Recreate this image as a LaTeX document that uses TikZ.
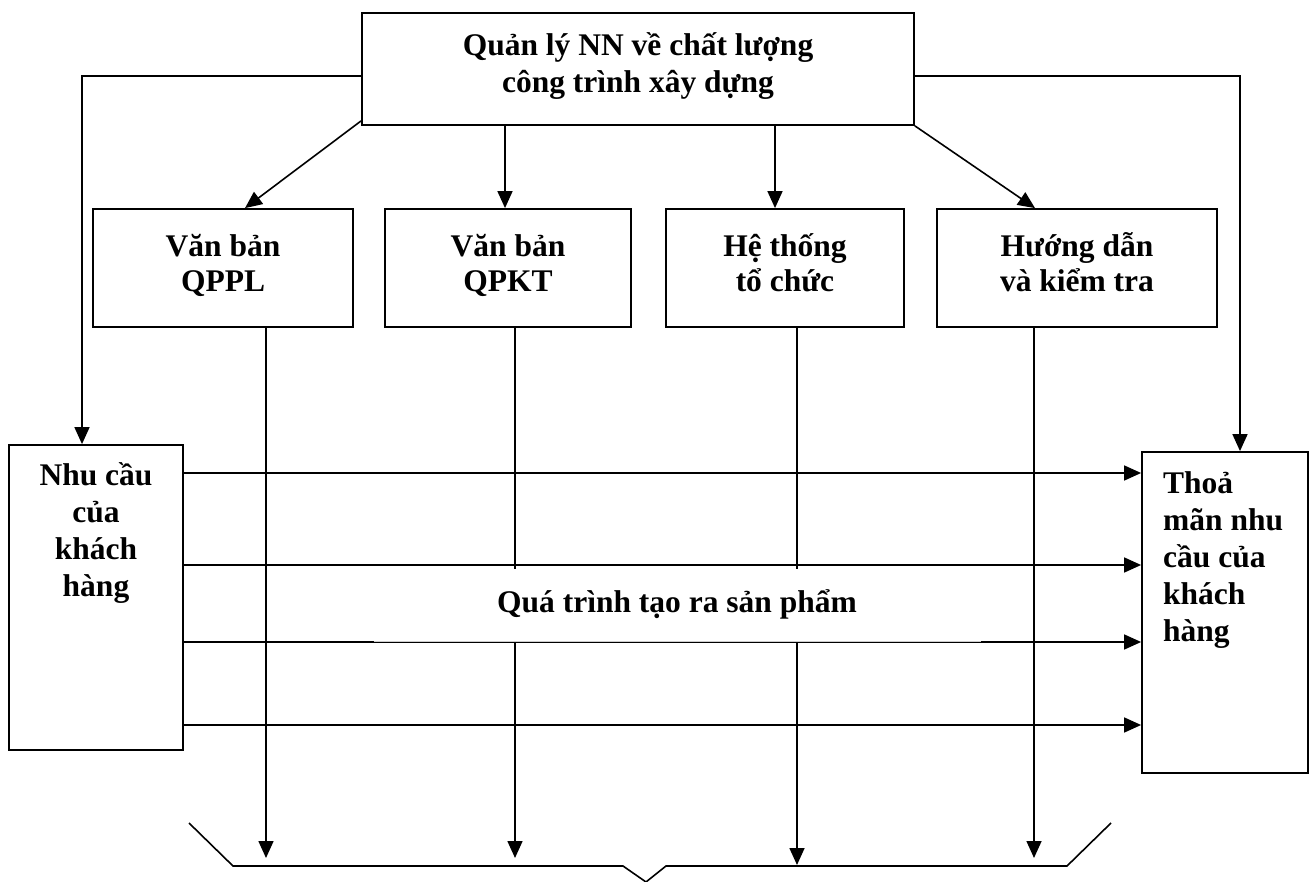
\documentclass[tikz,border=0pt]{standalone}
\usepackage{fontspec}
\setmainfont{Liberation Serif}
\usetikzlibrary{arrows.meta,calc}
\newcommand{\fst}{\rule{0pt}{32pt}}
\begin{document}
\begin{tikzpicture}[x=1pt,y=-1pt,
  box/.style={draw,line width=1.8pt,inner sep=0pt},
  txt/.style={font=\fontsize{31.5}{37}\selectfont\bfseries,inner sep=0pt,align=center,anchor=north},
  txtb/.style={txt,font=\fontsize{31.5}{35}\selectfont\bfseries},
  arr/.style={line width=1.6pt,-{Triangle[length=17pt,width=15pt]}},
  ln/.style={line width=1.6pt}]
\fill[white] (0,0) rectangle (1309,882);
\useasboundingbox (0,0) rectangle (1309,882);
% boxes
\node[box,minimum width=552pt,minimum height=112pt] (T) at (638,69) {};
\node[box,minimum width=260pt,minimum height=118pt] (b1) at (223,268) {};
\node[box,minimum width=246pt,minimum height=118pt] (b2) at (508,268) {};
\node[box,minimum width=238pt,minimum height=118pt] (b3) at (785,268) {};
\node[box,minimum width=280pt,minimum height=118pt] (b4) at (1077,268) {};
\node[box,minimum width=174pt,minimum height=305pt] (L) at (96,597.5) {};
\node[box,minimum width=166pt,minimum height=321pt] (R) at (1225,612.5) {};
% texts
\node[txt] (tT) at (638,23) {\fst Quản lý NN về chất lượng\\công trình xây dựng};
\node[txtb] (t1) at (223,224) {\fst Văn bản\\QPPL};
\node[txtb] (t2) at (508,224) {\fst Văn bản\\QPKT};
\node[txtb] (t3) at (785,224) {\fst Hệ thống\\tổ chức};
\node[txtb] (t4) at (1077,224) {\fst Hướng dẫn\\và kiểm tra};
\node[txt] (tL) at (96,453) {\fst Nhu cầu\\của\\khách\\hàng};
\node[txt,align=left,anchor=north west] (tR) at (1163,461) {\fst Thoả\\mãn nhu\\cầu của\\khách\\hàng};
% coordinates
\coordinate (yl) at (82,76);
\coordinate (yr) at (1240,76);
\coordinate (d1) at (245,0);
\coordinate (d4) at (1035,0);
\coordinate (a2) at (505,0);
\coordinate (a3) at (775,0);
\coordinate (v1) at (266,858);
\coordinate (v2) at (515,858);
\coordinate (v3) at (797,865);
\coordinate (v4) at (1034,858);
\coordinate (h1) at (0,473);
\coordinate (h2) at (0,565);
\coordinate (h3) at (0,642);
\coordinate (h4) at (0,725);
% top connectors
\draw[arr] (T.west |- yl) -- (yl) -- (L.north -| yl);
\draw[arr] (T.east |- yr) -- (yr) -- (R.north -| yr);
\draw[arr] ([yshift=5pt]T.south west) -- (b1.north -| d1);
\draw[arr] (T.south -| a2) -- (b2.north -| a2);
\draw[arr] (T.south -| a3) -- (b3.north -| a3);
\draw[arr] (T.south east) -- (b4.north -| d4);
% vertical arrows to the bottom
\draw[arr] (b1.south -| v1) -- (v1);
\draw[arr] (b2.south -| v2) -- (v2);
\draw[arr] (b3.south -| v3) -- (v3);
\draw[arr] (b4.south -| v4) -- (v4);
% horizontal arrows
\draw[arr] (L.east |- h1) -- (R.west |- h1);
\draw[arr] (L.east |- h2) -- (R.west |- h2);
\draw[arr] (L.east |- h3) -- (R.west |- h3);
\draw[arr] (L.east |- h4) -- (R.west |- h4);
% band with label
\node[fill=white,inner sep=0pt,minimum width=607pt,minimum height=72pt] (band) at (677.5,605) {};
\draw[black!20,line width=1pt] (band.south west) -- (band.south east);
\node[font=\fontsize{31.5}{37}\selectfont\bfseries,inner sep=0pt,anchor=base] (tB) at (677,612) {Quá trình tạo ra sản phẩm};
% bottom brace
\draw[ln] (189,823) -- (233,866) -- (623,866) -- (646,882) -- (666,866) -- (1067,866) -- (1111,823);
\end{tikzpicture}
\end{document}
